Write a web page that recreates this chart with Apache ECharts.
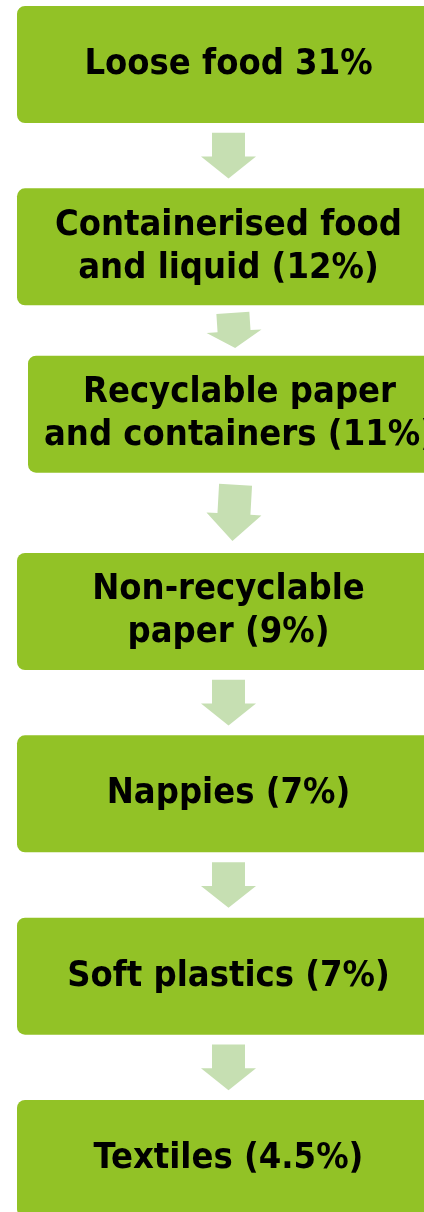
<!DOCTYPE html>
<html>
<head>
<meta charset="utf-8">
<script src="https://cdn.jsdelivr.net/npm/echarts@6/dist/echarts.min.js"></script>
<style>
  html, body { margin: 0; padding: 0; background: #ffffff; }
  #chart { width: 424px; height: 1212px; }
</style>
</head>
<body>
<div id="chart"></div>
<script>
// waste stream steps, top to bottom, with their share of the bin
const stages = [
  'Loose food',
  'Containerised food\nand liquid',
  'Recyclable paper\nand containers',
  'Non-recyclable\npaper',
  'Nappies',
  'Soft plastics',
  'Textiles'
]
const shares = [31, 12, 11, 9, 7, 7, 4.5]
// arrows go from step i to step i + 1
const links = [[0, 1], [1, 2], [2, 3], [3, 4], [4, 5], [5, 6]]

const boxColor = '#92c226'
const arrowColor = '#c6dfb2'
const boxRatio = 0.642 // box height as part of one step
// the third box was dragged a little in the original
const nudge = { 2: [11, -15] }

function labelOf(i) {
  return i === 0 ? stages[i] + ' ' + shares[i] + '%' : stages[i] + ' (' + shares[i] + '%)'
}

function boxAt(api, i) {
  const c = api.coord([0, i])
  const size = api.size([1, 1])
  const n = nudge[i] || [0, 0]
  const h = size[1] * boxRatio
  return { x: c[0] + n[0], y: c[1] + n[1] - h / 2, w: size[0], h: h }
}

const chart = echarts.init(document.getElementById('chart'), null, { renderer: 'canvas' })
chart.setOption({
  backgroundColor: '#ffffff',
  animation: false,
  grid: { left: 17, right: 0, top: 0, bottom: 0 },
  // boxes run past the right edge, so one unit of x is wider than the grid
  xAxis: { type: 'value', min: 0, max: 407 / 423, show: false },
  yAxis: { type: 'value', inverse: true, min: -0.3537, max: 6.2934, show: false },
  series: [{
    type: 'custom',
    name: 'steps',
    data: stages.map((s, i) => [0, i]),
    encode: { x: 0, y: 1 },
    clip: false,
    renderItem(params, api) {
      const i = params.dataIndex
      const b = boxAt(api, i)
      return {
        type: 'group',
        children: [{
          type: 'rect',
          shape: { x: b.x, y: b.y, width: b.w, height: b.h, r: 8 },
          style: { fill: boxColor }
        }, {
          type: 'text',
          style: {
            text: labelOf(i),
            x: b.x + b.w / 2,
            y: b.y + b.h / 2,
            align: 'center',
            verticalAlign: 'middle',
            fill: '#000000',
            fontFamily: 'DejaVu Sans Condensed',
            fontWeight: 'bold',
            fontSize: 36,
            lineHeight: 43
          }
        }]
      }
    }
  }, {
    type: 'custom',
    name: 'arrows',
    data: links.map(l => [0, l[0], l[1]]),
    encode: { x: 0, y: 1 },
    clip: false,
    renderItem(params, api) {
      const l = links[params.dataIndex]
      const a = boxAt(api, l[0])
      const b = boxAt(api, l[1])
      const ax = a.x + a.w / 2
      const bx = b.x + b.w / 2
      const top = a.y + a.h
      const bottom = b.y
      const gap = bottom - top
      const len = gap * 0.7
      const head = len * 0.48
      const cx = (ax + bx) / 2
      const cy = (top + bottom) / 2
      const ang = Math.atan2(bx - ax, (b.y + b.h / 2) - (a.y + a.h / 2))
      const sw = 16.5
      const hw = 27.5
      return {
        type: 'polygon',
        x: cx,
        y: cy,
        rotation: ang,
        shape: {
          points: [
            [-sw, -len / 2], [sw, -len / 2], [sw, len / 2 - head], [hw, len / 2 - head],
            [0, len / 2], [-hw, len / 2 - head], [-sw, len / 2 - head]
          ]
        },
        style: { fill: arrowColor }
      }
    }
  }]
})
</script>
</body>
</html>
